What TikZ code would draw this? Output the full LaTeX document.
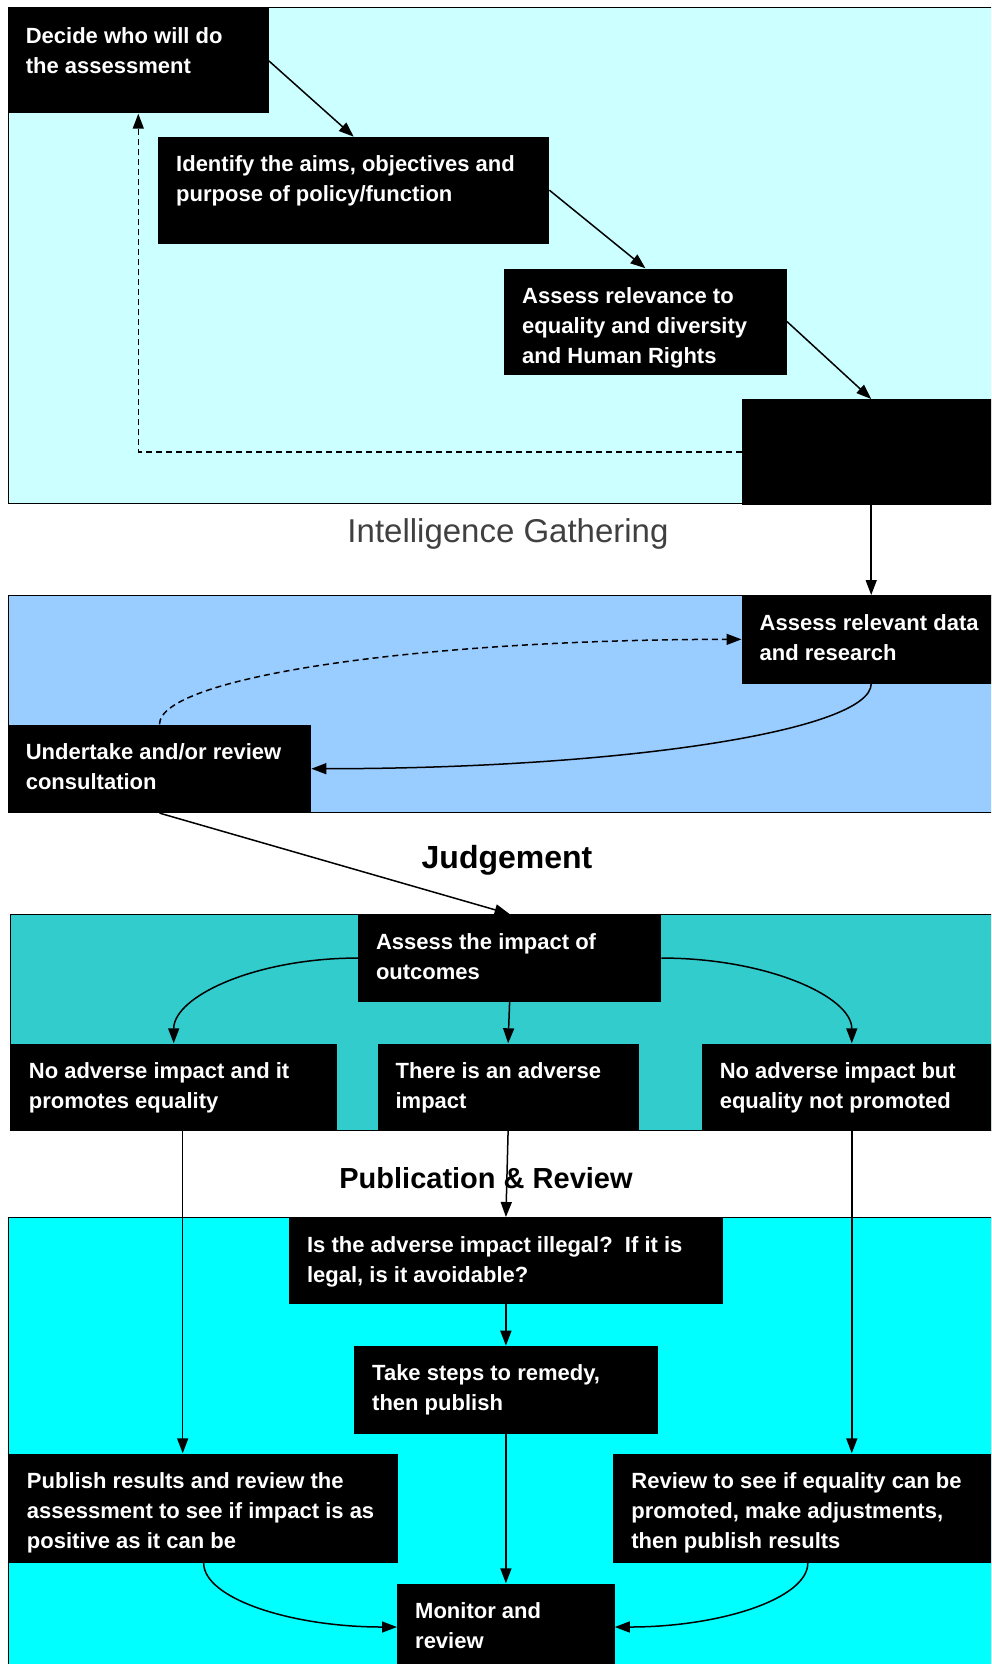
\documentclass[tikz,border=0pt]{standalone}
\usepackage{fontspec}
\setmainfont{Liberation Sans}
\usetikzlibrary{arrows.meta}
\definecolor{panelone}{RGB}{204,255,255}
\definecolor{paneltwo}{RGB}{153,204,255}
\definecolor{panelthree}{RGB}{51,204,204}
\definecolor{panelfour}{RGB}{0,255,255}
\definecolor{labelgray}{RGB}{64,64,64}
\newcommand{\boxfont}{\fontsize{22}{30}\selectfont\bfseries}
\newcommand{\boxtext}[3]{\parbox[c][#2][t]{#1}{\raggedright\rule{0pt}{35pt}#3}}

\begin{document}
\begin{tikzpicture}[x=1pt, y=-1pt,
	blackbox/.style={fill=black, text=white, anchor=north west, inner xsep=18pt, inner ysep=0pt, font=\boxfont},
	panel/.style={draw=black, line width=1pt},
	arr/.style={-{Triangle[length=15pt, width=11pt]}, line width=1.5pt},
	heading/.style={anchor=base, inner sep=0pt}]
	\clip (0,0) rectangle (991,1664);
	\fill[white] (0,0) rectangle (991,1664);

	\draw[panel, fill=panelone] (8,8) rectangle (1000,503.5);
	\draw[panel, fill=paneltwo] (8,595) rectangle (1000,812);
	\draw[panel, fill=panelthree] (10.7,914) rectangle (1000,1130.5);
	\draw[panel, fill=panelfour] (8.5,1217) rectangle (1000,1680);

	\node[blackbox] (decide) at (7.6,8.3) {\boxtext{225pt}{105pt}{Decide who will do\\the assessment}};
	\node[blackbox] (identify) at (158,136.7) {\boxtext{355pt}{106.6pt}{Identify the aims, objectives and\\purpose of policy/function}};
	\node[blackbox] (relevance) at (504,268.3) {\boxtext{246.5pt}{106pt}{Assess relevance to\\equality and diversity\\and Human Rights}};
	\node[blackbox] (blank) at (741.5,399) {\boxtext{223pt}{106pt}{}};

	\node[blackbox] (data) at (741.5,595) {\boxtext{223pt}{88.3pt}{Assess relevant data\\and research}};
	\node[blackbox] (consult) at (7.6,724.3) {\boxtext{267.4pt}{88.4pt}{Undertake and/or review\\consultation}};

	\node[blackbox] (impact) at (357.8,914) {\boxtext{267.2pt}{87.7pt}{Assess the impact of\\outcomes}};
	\node[blackbox] (noadvone) at (10.7,1043.3) {\boxtext{289.6pt}{87.4pt}{No adverse impact and it\\promotes equality}};
	\node[blackbox] (adverse) at (377.4,1043.3) {\boxtext{225pt}{87.4pt}{There is an adverse\\impact}};
	\node[blackbox] (noadvtwo) at (701.6,1043.3) {\boxtext{264pt}{87.4pt}{No adverse impact but\\equality not promoted}};

	\node[blackbox] (illegal) at (288.9,1217) {\boxtext{397.6pt}{87pt}{Is the adverse impact illegal?\ \ If it is\\legal, is it avoidable?}};
	\node[blackbox] (take) at (354,1345.7) {\boxtext{267.4pt}{87.6pt}{Take steps to remedy,\\then publish}};
	\node[blackbox] (publish) at (8.8,1453.3) {\boxtext{353.4pt}{109.4pt}{Publish results and review the\\assessment to see if impact is as\\positive as it can be}};
	\node[blackbox] (review) at (613.2,1453.3) {\boxtext{352.8pt}{109.4pt}{Review to see if equality can be\\promoted, make adjustments,\\then publish results}};
	\node[blackbox] (monitor) at (397,1583.3) {\boxtext{181.4pt}{87pt}{Monitor and\\review}};

	\node[heading, text=labelgray, font=\fontsize{33}{36}\selectfont] (intel) at (508,542.7) {Intelligence Gathering};
	\node[heading, font=\fontsize{32}{36}\selectfont\bfseries] (judge) at (507,868.3) {Judgement};
	\node[heading, font=\fontsize{29}{34}\selectfont\bfseries] (pubrev) at (486,1188.3) {Publication \& Review};

	\draw[arr] (decide.east) -- (identify.north);
	\draw[arr] (identify.east) -- (relevance.north);
	\draw[arr] (relevance.east) -- (blank.north);
	\draw[arr, dash pattern=on 6pt off 4pt] (blank.west) -| (decide.south);
	\draw[arr] (blank.south) -- (data.north);

	\draw[arr, dash pattern=on 6pt off 4pt] (consult.north) .. controls +(0,-47) and +(-322,0) .. (data.west);
	\draw[arr] (data.south) .. controls +(0,47) and +(310,0) .. (consult.east);
	\draw[arr] (consult.south) -- (impact.north);

	\draw[arr] (impact.west) .. controls +(-102,0) and +(0,-47) .. (noadvone.north);
	\draw[arr] (impact.east) .. controls +(105,0) and +(0,-47) .. (noadvtwo.north);
	\draw[arr] (impact.south) -- (adverse.north);

	\draw[arr] ([xshift=9pt]noadvone.south) -- ([xshift=9pt]noadvone.south |- publish.north);
	\draw[arr] (noadvtwo.south) -- (noadvtwo.south |- review.north);
	\draw[arr] (adverse.south) -- (illegal.north);
	\draw[arr] (illegal.south) -- (take.north);
	\draw[arr] (take.south) -- (monitor.north);
	\draw[arr] (publish.south) .. controls +(0,35) and +(-107,0) .. (monitor.west);
	\draw[arr] (review.south) .. controls +(0,35) and +(107,0) .. (monitor.east);
\end{tikzpicture}
\end{document}
